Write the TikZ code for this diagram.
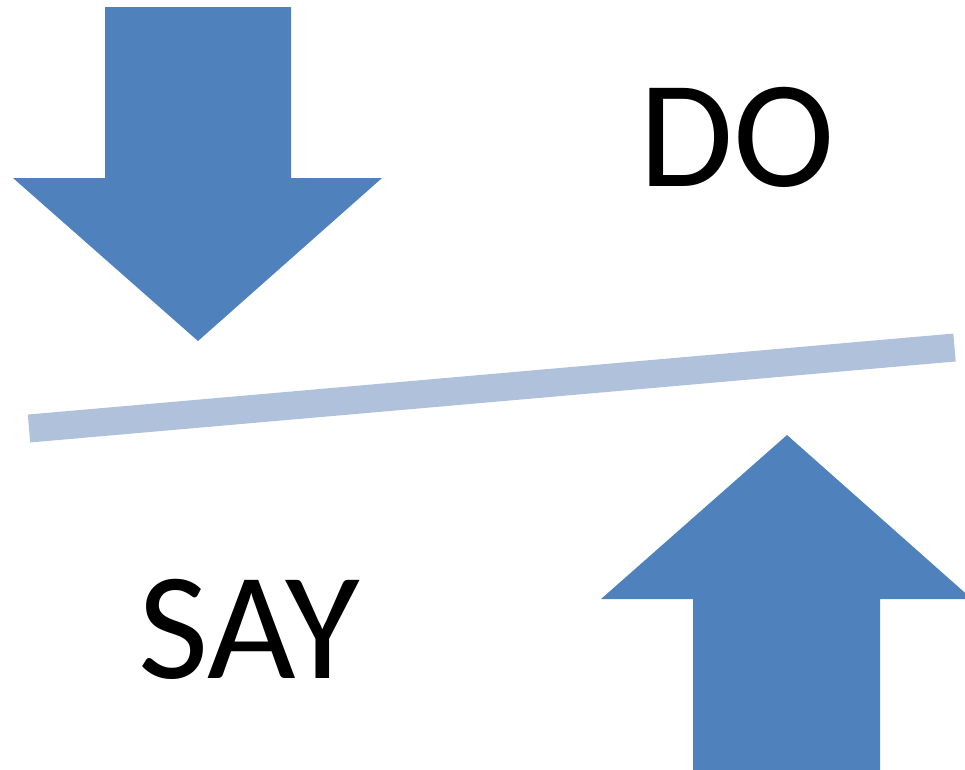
\documentclass[tikz,border=0pt]{standalone}
\usepackage{fontspec}
\setmainfont{Carlito}
\definecolor{arrowblue}{HTML}{4F81BD}
\definecolor{lineblue}{HTML}{B0C1DC}
\begin{document}
\begin{tikzpicture}[x=0.01cm,y=-0.01cm,
  bigarrow/.style={fill=arrowblue,draw=none},
  label/.style={font=\fontsize{43.5}{52}\selectfont,inner sep=0pt,anchor=center}]
\useasboundingbox (0,0) rectangle (965,769);
\begin{scope}
\clip (0,0) rectangle (965,769);
% down arrow
\fill[bigarrow] (105,7) -- (291,7) -- (291,178) -- (382,178) -- (198,341) -- (13,178) -- (105,178) -- cycle;
% up arrow
\fill[bigarrow] (693,780) -- (693,599) -- (601,599) -- (787,435) -- (972,599) -- (880,599) -- (880,780) -- cycle;
% divider line
\coordinate (l1) at (29,428.5);
\coordinate (l2) at (954.5,347.5);
\draw[lineblue,line width=0.28cm] (l1) -- (l2);
\end{scope}
\node[label] (do) at (737.5,137) {DO};
\node[label] (say) at (249,629) {SAY};
\end{tikzpicture}
\end{document}
